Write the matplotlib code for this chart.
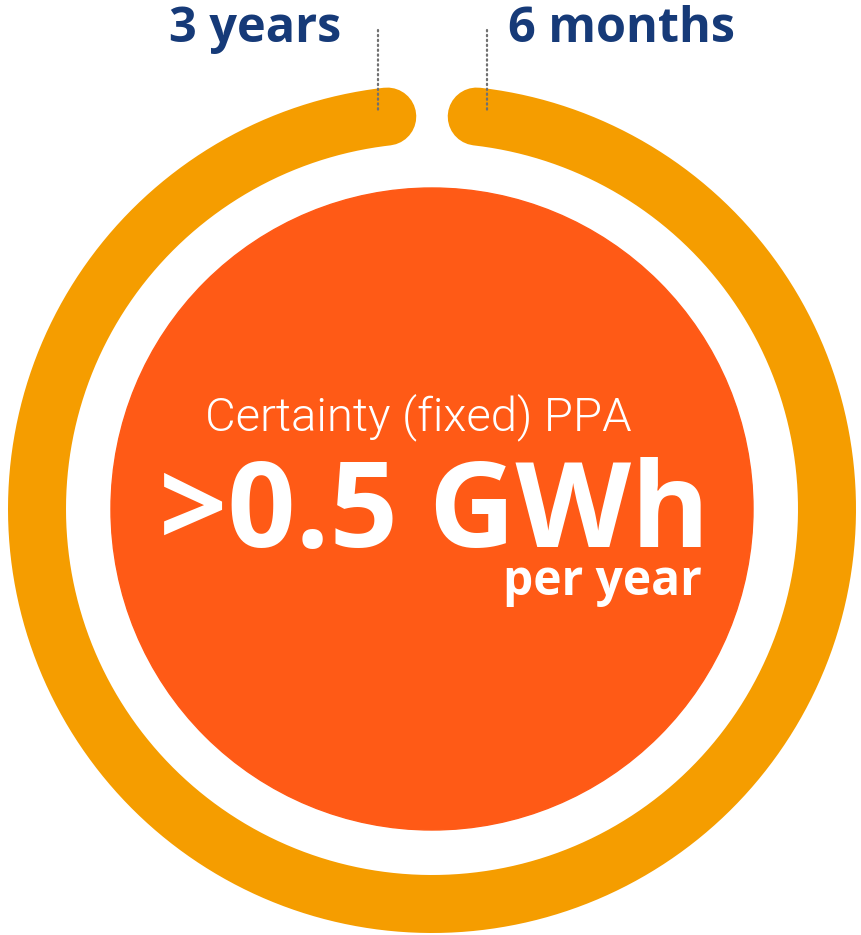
import numpy as np
import matplotlib.pyplot as plt

# Dane wykresu
labels = ["3 years", "6 months"]
label_x = [255, 622]
leader_x = [378, 487]
arc_start_deg = 6.5      # kąt od góry (zgodnie z ruchem wskazówek)
arc_end_deg = 353.5
title_text = "Certainty (fixed) PPA"
value_text = ">0.5 GWh"
unit_text = "per year"

RING = "#F59D00"
CORE = "#FF5A16"
NAVY = "#163A78"

W, H = 861, 935
cx, cy = 432, 509
r_ring = 395
ring_w = 58
r_core = 321

fig = plt.figure(figsize=(W / 100, H / 100), dpi=100)
ax = fig.add_axes([0, 0, 1, 1])
ax.set_xlim(0, W)
ax.set_ylim(H, 0)
ax.set_aspect("equal")
ax.axis("off")

# Pierścień z zaokrąglonymi końcami
t = np.radians(np.linspace(arc_start_deg, arc_end_deg, 720))
ax.plot(cx + r_ring * np.sin(t), cy - r_ring * np.cos(t),
        color=RING, lw=ring_w * 72 / 100, solid_capstyle="round", zorder=1)

# Koło wewnętrzne
ax.add_patch(plt.Circle((cx, cy), r_core, color=CORE, zorder=2))

# Etykiety i linie wskazujące
for lab, lx, dx in zip(labels, label_x, leader_x):
    ax.text(lx, 30, lab, ha="center", va="center", color=NAVY,
            fontsize=35, fontweight="bold", family="Open Sans")
    ax.plot([dx, dx], [30, 110], color="#707070", lw=1.6,
            linestyle=(0, (0.6, 1.6)), dash_capstyle="round", zorder=3)

ax.text(418, 430, title_text, ha="center", va="baseline", color="white",
        fontsize=34, fontweight=300, family="Roboto", zorder=4)
ax.text(434, 547, value_text, ha="center", va="baseline", color="white",
        fontsize=86, fontweight="bold", family="Open Sans", zorder=4)
ax.text(702, 595, unit_text, ha="right", va="baseline", color="white",
        fontsize=34.5, fontweight="bold", family="Open Sans", zorder=4)

fig.savefig("out.png", dpi=100, facecolor="white")
